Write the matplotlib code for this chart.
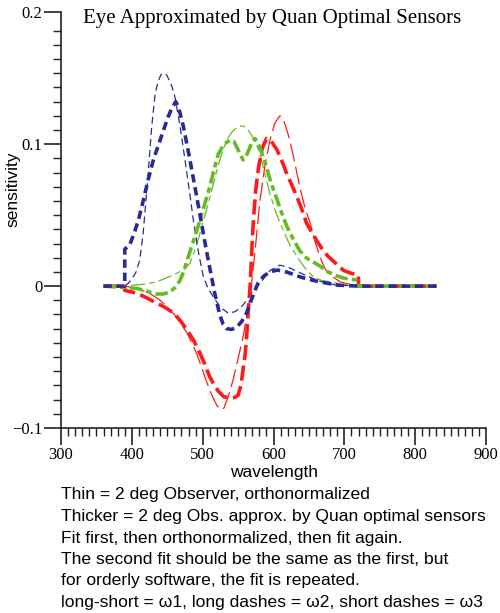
import numpy as np
import matplotlib
matplotlib.use('Agg')
import matplotlib.pyplot as plt
from matplotlib.ticker import FixedLocator

# thin = 2 deg observer, orthonormalized; thick = approx. by Quan optimal sensors
blue_thin_x = [360, 390, 395, 400, 406, 411, 416, 423, 428, 433, 437, 441, 445, 449, 453, 457, 461, 468, 475, 481, 487, 494,
               501, 508, 515, 525, 536, 546, 557, 569, 581, 595, 609, 622, 635, 648, 661, 675, 689, 720, 830]
blue_thin_y = [0, 0, 0.002, 0.005, 0.010, 0.018, 0.037, 0.079, 0.112, 0.136, 0.144, 0.149, 0.150, 0.149, 0.145, 0.140, 0.133,
               0.113, 0.089, 0.068, 0.046, 0.024, 0.0066, -0.002, -0.0075, -0.015, -0.019, -0.018, -0.0134, -0.005, 0.002,
               0.011, 0.0148, 0.013, 0.010, 0.007, 0.0042, 0.002, 0.0007, 0, 0]
blue_fit_x = [360, 390, 390, 397, 403, 409, 416, 423, 431, 440, 451, 457, 462, 466, 473, 482, 489, 496, 502, 508, 517, 524,
              529, 534, 541, 548, 555, 562, 570, 578, 586, 595, 605, 615, 625, 637, 650, 666, 690, 720, 830]
blue_fit_y = [0, 0, 0.026, 0.029, 0.037, 0.046, 0.060, 0.075, 0.090, 0.103, 0.119, 0.126, 0.130, 0.126, 0.112, 0.089, 0.070,
              0.051, 0.034, 0.018, -0.005, -0.020, -0.027, -0.030, -0.0305, -0.029, -0.025, -0.019, -0.008, 0.002, 0.007,
              0.010, 0.0113, 0.0105, 0.0088, 0.0066, 0.0047, 0.003, 0.0007, 0, 0]

green_thin_x = [360, 390, 402, 420, 435, 450, 463, 474, 482, 488, 495, 501, 510, 516, 522, 528, 535, 542, 549, 555, 561, 567,
                573, 579, 587, 595, 604, 614, 623, 633, 644, 656, 668, 680, 700, 720, 830]
green_thin_y = [0, 0, 0.0007, 0.0015, 0.003, 0.006, 0.009, 0.012, 0.016, 0.024, 0.035, 0.046, 0.062, 0.074, 0.085, 0.095,
                0.104, 0.109, 0.112, 0.113, 0.112, 0.108, 0.103, 0.096, 0.081, 0.065, 0.051, 0.039, 0.029, 0.021, 0.013,
                0.0066, 0.004, 0.003, 0.001, 0, 0]
green_fit_x = [360, 390, 407, 420, 435, 445, 454, 461, 468, 473, 478, 487, 496, 503, 510, 516, 522, 530, 539, 544, 550, 557,
               561, 566, 570, 574, 578, 582, 590, 597, 605, 612, 619, 628, 637, 646, 656, 666, 677, 688, 700, 710, 719, 720, 830]
green_fit_y = [0, -0.001, -0.0016, -0.0035, -0.0056, -0.0055, -0.004, -0.001, 0.004, 0.010, 0.018, 0.032, 0.046, 0.058, 0.070,
               0.082, 0.093, 0.100, 0.103, 0.102, 0.096, 0.089, 0.091, 0.097, 0.102, 0.104, 0.101, 0.096, 0.084, 0.072, 0.061,
               0.051, 0.042, 0.033, 0.025, 0.020, 0.017, 0.014, 0.010, 0.0075, 0.0055, 0.0048, 0.0042, 0, 0]

red_thin_x = [360, 390, 407, 425, 440, 460, 478, 492, 506, 514, 520, 525, 530, 536, 543, 550, 557, 562, 567, 574, 581, 588,
              595, 602, 609, 615, 623, 630, 637, 644, 652, 659, 666, 673, 680, 694, 710, 720, 830]
red_thin_y = [0, 0, -0.0015, -0.005, -0.010, -0.020, -0.033, -0.048, -0.068, -0.078, -0.084, -0.087, -0.086, -0.078, -0.066,
              -0.051, -0.036, -0.022, -0.0075, 0.025, 0.061, 0.085, 0.103, 0.115, 0.120, 0.116, 0.103, 0.087, 0.070, 0.056,
              0.044, 0.031, 0.020, 0.012, 0.008, 0.003, 0.001, 0, 0]
red_fit_x = [360, 390, 390, 407, 420, 435, 447, 459, 468, 478, 487, 496, 503, 510, 515, 522, 530, 539, 545, 550, 554, 557,
             560, 562, 564, 567, 570, 572, 575, 579, 584, 590, 597, 605, 612, 619, 626, 633, 640, 647, 654, 661, 669, 677,
             688, 699, 710, 720, 720, 830]
red_fit_y = [0, 0, -0.003, -0.005, -0.008, -0.012, -0.015, -0.019, -0.024, -0.031, -0.038, -0.047, -0.055, -0.064, -0.0685,
             -0.074, -0.078, -0.079, -0.0785, -0.077, -0.070, -0.059, -0.048, -0.036, -0.020, 0, 0.032, 0.049, 0.068, 0.084,
             0.097, 0.104, 0.102, 0.096, 0.088, 0.079, 0.071, 0.063, 0.054, 0.044, 0.038, 0.032, 0.026, 0.021, 0.016, 0.011,
             0.009, 0.0077, 0, 0]

caption = ["Thin = 2 deg Observer, orthonormalized",
           "Thicker = 2 deg Obs. approx. by Quan optimal sensors",
           "Fit first, then orthonormalized, then fit again.",
           "The second fit should be the same as the first, but",
           "for orderly software, the fit is repeated.",
           "long-short = \u03c91, long dashes = \u03c92, short dashes = \u03c93"]

blue = '#2a2a96'
green = '#66bb22'
red = '#ff1a1a'

serif = 'Liberation Serif'
sans = 'Liberation Sans'
plt.rcParams['lines.scale_dashes'] = False
plt.rcParams['font.family'] = [serif, 'DejaVu Serif']

fig = plt.figure(figsize=(5.0, 6.13), dpi=100)
ax = fig.add_axes([61/500, 1-428/613, 425/500, 416/613])

ax.plot(red_thin_x, red_thin_y, color=red, lw=0.9, ls=(0, (13, 4)))
ax.plot(green_thin_x, green_thin_y, color=green, lw=0.9, ls=(0, (10, 3, 4, 3)))
ax.plot(blue_thin_x, blue_thin_y, color=blue, lw=0.9, ls=(0, (5, 3)))
ax.plot(red_fit_x, red_fit_y, color=red, lw=2.6, ls=(0, (11, 4)))
ax.plot(green_fit_x, green_fit_y, color=green, lw=2.6, ls=(0, (9, 3, 4, 3)))
ax.plot(blue_fit_x, blue_fit_y, color=blue, lw=2.6, ls=(0, (6, 3.5)))

ytop = 0.1932
ax.set_xlim(300, 900)
ax.set_ylim(-0.1, ytop)
for s in ['top', 'right']:
    ax.spines[s].set_visible(False)
for s in ['left', 'bottom']:
    ax.spines[s].set_linewidth(1.2)
    ax.spines[s].set_color('#222222')

ax.xaxis.set_major_locator(FixedLocator(np.arange(300, 901, 100)))
ax.xaxis.set_minor_locator(FixedLocator(np.arange(300, 901, 10)))
ax.yaxis.set_major_locator(FixedLocator([-0.1, 0, 0.1, ytop]))
ax.yaxis.set_minor_locator(FixedLocator(np.arange(-0.09, 0.185, 0.01)))
ax.set_yticklabels(['\u22120.1', '0', '0.1', '0.2'])
ax.tick_params(which='major', direction='out', length=12, width=1.2, color='#222222', labelsize=12)
ax.tick_params(which='minor', direction='out', length=6, width=1.0, color='#222222')
ax.tick_params(axis='y', which='major', pad=1.5)
ax.tick_params(axis='x', which='major', pad=2)

fig.text(272/500, 1-18/613, 'Eye Approximated by Quan Optimal Sensors',
         fontsize=15, ha='center', va='center')
fig.text(274/500, 1-473/613, 'wavelength', family=sans, fontsize=12.5, ha='center', va='center')
fig.text(13/500, 1-189/613, 'sensitivity', family=sans, fontsize=12.5, rotation=90,
         ha='center', va='center')

for i, line in enumerate(caption):
    fig.text(61/500, 1-(495 + i*21.5)/613, line, family=sans, fontsize=12.6,
             ha='left', va='center')

fig.savefig('out.png', dpi=100)
